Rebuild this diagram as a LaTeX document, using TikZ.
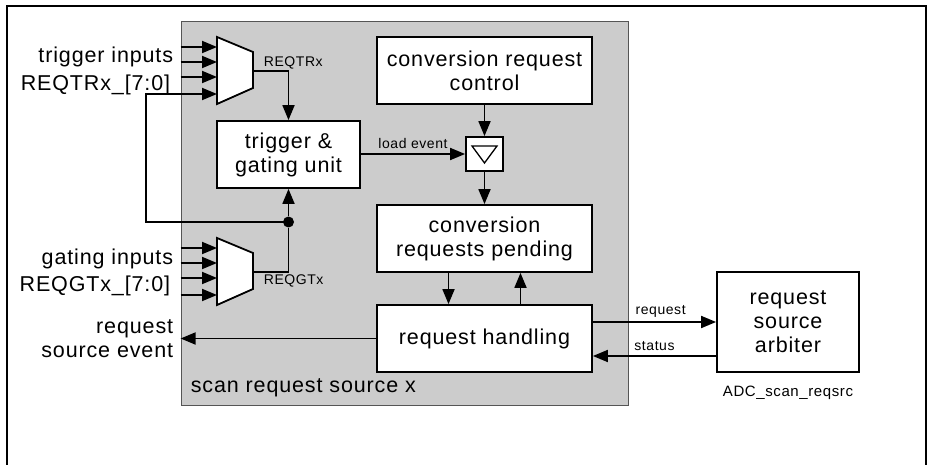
\documentclass[tikz,border=0pt]{standalone}
\usepackage{fontspec}
\setmainfont{Liberation Sans}[LetterSpace=4]
\usetikzlibrary{arrows.meta, positioning, calc}
\definecolor{srcgray}{HTML}{CCCCCC}
\definecolor{edgec}{HTML}{555555}
\newcommand{\muxunit}[2]{%
  \coordinate (#1) at #2;
  \draw[fill=white, line width=1.8pt] (#1) -- ++(36,15) -- ++(0,36)
    -- ++(-36,16) -- cycle;
  \foreach \k/\dy in {1/10,2/25,3/40,4/57}
    \coordinate (#1-in\k) at ($(#1)+(0,\dy)$);
  \coordinate (#1-out) at ($(#1)+(36,34)$);
}

\begin{document}
\begin{tikzpicture}[x=1pt, y=-1pt, >={Triangle[length=15pt, width=12pt]},
      line width=1.8pt,
      blockbox/.style={draw, fill=white, line width=1.8pt, align=center,
                       inner sep=0pt, font=\fontsize{21.5}{24}\selectfont},
      biglbl/.style={inner sep=0pt, font=\fontsize{21.5}{24}\selectfont},
      smalllbl/.style={inner sep=0pt, font=\fontsize{14}{16}\selectfont}]
    \useasboundingbox (0,0) rectangle (929,465);
    \draw[line width=2.4pt] (7,470) -- (7,6) -- (926,6) -- (926,470);
    % scan request source
    \node[draw=edgec, fill=srcgray, line width=0.8pt, minimum width=447pt,
          minimum height=384pt, inner sep=0pt] (src) at (404.5,213) {};
    \node[biglbl, anchor=west] (srclbl) at (190,388) {scan request source x};
    \node[blockbox, minimum width=215pt, minimum height=67pt] (ctrl)
      at (484.5,70.5) {conversion request\\control};
    \node[blockbox, minimum width=215pt, minimum height=67pt] (pend)
      at (484.5,238.5) {conversion\\requests pending};
    \node[blockbox, minimum width=215pt, minimum height=67pt] (handl)
      at (484.5,338.5) {request handling};
    \node[blockbox, minimum width=143pt, minimum height=67pt] (trig)
      at (288.5,154.5) {trigger \&\\gating unit};
    \node[blockbox, minimum width=37pt, minimum height=34pt] (reg)
      at (484.5,154) {};
    \draw[line width=1.3pt] ($(reg.center)+(-12.5,-8)$) -- ($(reg.center)+(12.5,-8)$)
      -- ($(reg.center)+(0,9)$) -- cycle;
    \node[blockbox, minimum width=142pt, minimum height=100pt] (arb)
      at (788,322) {request\\source\\arbiter};
    \node[smalllbl, font=\fontsize{15}{17}\selectfont, below=12pt of arb]
      (arblbl) {ADC\_scan\_reqsrc};
    % multiplexers
    \muxunit{trmux}{(217,37)}
    \muxunit{gtmux}{(217,238)}
    \node[smalllbl, anchor=west] (trsel) at (263,63) {REQTRx};
    \node[smalllbl, anchor=west] (gtsel) at (263,281) {REQGTx};
    \foreach \k in {1,2,3}
      \draw[->] (src.west |- trmux-in\k) -- (trmux-in\k);
    \foreach \k in {1,2,3,4}
      \draw[->] (src.west |- gtmux-in\k) -- (gtmux-in\k);
    \node[biglbl, anchor=east] (trglbl) at (174,57) {trigger inputs};
    \node[biglbl, anchor=east] (trgbus) at (171,85) {REQTRx\_[7:0]};
    \node[biglbl, anchor=east] (gatlbl) at (174,259) {gating inputs};
    \node[biglbl, anchor=east] (gatbus) at (171,286) {REQGTx\_[7:0]};
    \node[biglbl, anchor=east, align=right] (evtlbl) at (174,338.5)
      {request\\source event};
    % connections
    \node[circle, fill, inner sep=0pt, minimum size=11pt] (jdot) at (288.5,222) {};
    \coordinate (fbk) at (146,222);
    \coordinate (stin) at ([yshift=-34pt]arb.west);
    \draw[->] (trmux-out) -| (trig.north);
    \draw (gtmux-out) -| (jdot);
    \draw[->] (jdot) -- (trig.south);
    \draw[->] (jdot.center) -- (fbk) |- (trmux-in4);
    \draw[->] (trig.east |- reg.west) -- node[smalllbl, above=4pt, midway]
      {load event} (reg.west);
    \draw[->] (ctrl) -- (reg);
    \draw[->] (reg) -- (pend);
    \draw[->] ([xshift=-36pt]pend.south) -- ([xshift=-36pt]handl.north);
    \draw[->] ([xshift=36pt]handl.north) -- ([xshift=36pt]pend.south);
    \draw[->] (handl.west) -- (src.west |- handl.west);
    \draw[->] (handl.east |- arb.west) -- node[smalllbl, above=4pt, pos=0.55]
      {request} (arb.west);
    \draw[->] (stin) -- node[smalllbl, above=4pt, pos=0.5]
      {status} (handl.east |- stin);
\end{tikzpicture}
\end{document}
